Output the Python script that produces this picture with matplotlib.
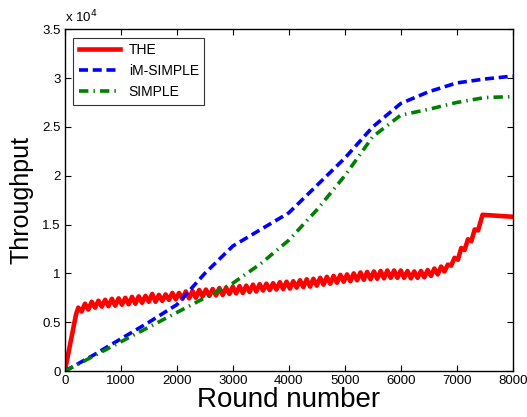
import matplotlib
matplotlib.use("Agg")
import matplotlib.pyplot as plt

plt.rcParams['font.family'] = ['Liberation Sans', 'DejaVu Sans']

# throughput in units of 10^4
rounds = [0, 500, 1000, 1500, 2000, 2500, 3000, 3500, 4000, 4500, 5000,
          5500, 6000, 6500, 7000, 7500, 8000]
im_simple = [0, 0.16, 0.33, 0.50, 0.68, 1.00, 1.28, 1.45, 1.62, 1.90, 2.18,
             2.50, 2.74, 2.86, 2.95, 2.99, 3.02]
simple = [0, 0.15, 0.30, 0.45, 0.60, 0.75, 0.90, 1.10, 1.34, 1.65, 2.00,
          2.40, 2.62, 2.68, 2.75, 2.80, 2.81]

# THE: rounds sampled every 60 in the oscillating part
the_x = ([0, 200] + list(range(240, 6841, 60)) +
         [6900, 6960, 7020, 7080, 7140, 7200, 7260, 7320, 7380, 7460, 8000])
the_y = [0, 0.58,
         0.65, 0.61, 0.69, 0.63, 0.71, 0.65, 0.72, 0.66, 0.73, 0.665,
         0.74, 0.67, 0.745, 0.68, 0.75, 0.685, 0.76, 0.69, 0.765, 0.70,
         0.77, 0.71, 0.79, 0.71, 0.78, 0.72, 0.785, 0.73, 0.80, 0.735,
         0.80, 0.74, 0.815, 0.745, 0.82, 0.75, 0.83, 0.765, 0.835, 0.77,
         0.84, 0.775, 0.85, 0.78, 0.855, 0.79, 0.865, 0.795, 0.87, 0.80,
         0.875, 0.81, 0.885, 0.815, 0.89, 0.825, 0.895, 0.83, 0.90, 0.835,
         0.91, 0.84, 0.915, 0.845, 0.92, 0.855, 0.93, 0.86, 0.94, 0.865,
         0.945, 0.875, 0.955, 0.885, 0.965, 0.895, 0.975, 0.905, 0.985, 0.915,
         0.99, 0.92, 1.00, 0.93, 1.01, 0.935, 1.015, 0.94, 1.02, 0.945,
         1.025, 0.95, 1.03, 0.955, 1.03, 0.955, 1.03, 0.955, 1.025, 0.95,
         1.02, 0.955, 1.025, 0.96, 1.035, 0.975, 1.05, 0.99, 1.07, 1.02,
         1.09,
         1.08, 1.16, 1.14, 1.26, 1.24, 1.35, 1.33, 1.45, 1.44, 1.60, 1.58]

fig = plt.figure(figsize=(5.27, 4.17), dpi=100)
ax = fig.add_axes([0.123, 0.110, 0.850, 0.820])

ax.plot(the_x, the_y, color='#ff0000', lw=3.3, label='THE')
ax.plot(rounds, im_simple, color='#0000ff', lw=2.6, dashes=(2.5, 1.3),
        label='iM-SIMPLE')
ax.plot(rounds, simple, color='#007f00', lw=2.6, dashes=(2.6, 1.4, 0.4, 1.4),
        label='SIMPLE')

ax.set_xlim(0, 8000)
ax.set_ylim(0, 3.5)
ax.set_xticks(range(0, 8001, 1000))
ax.set_yticks([0, 0.5, 1, 1.5, 2, 2.5, 3, 3.5])
ax.set_yticklabels(['0', '0.5', '1', '1.5', '2', '2.5', '3', '3.5'])
ax.tick_params(direction='in', top=True, right=True, labelsize=9.5,
               length=4, width=0.8, pad=3)
for s in ax.spines.values():
    s.set_linewidth(1.0)

ax.set_xlabel('Round number', fontsize=20, labelpad=0)
ax.set_ylabel('Throughput', fontsize=18, labelpad=6)
ax.text(0.0, 1.012, r'x 10$^4$', transform=ax.transAxes, fontsize=9.5,
        ha='left', va='bottom')

leg = ax.legend(loc='upper left', fontsize=10, frameon=True, fancybox=False,
                edgecolor='black', borderaxespad=0.6, handlelength=3.0,
                handletextpad=0.6, labelspacing=0.5)
leg.get_frame().set_linewidth(0.8)

fig.savefig('out.png', dpi=100)
